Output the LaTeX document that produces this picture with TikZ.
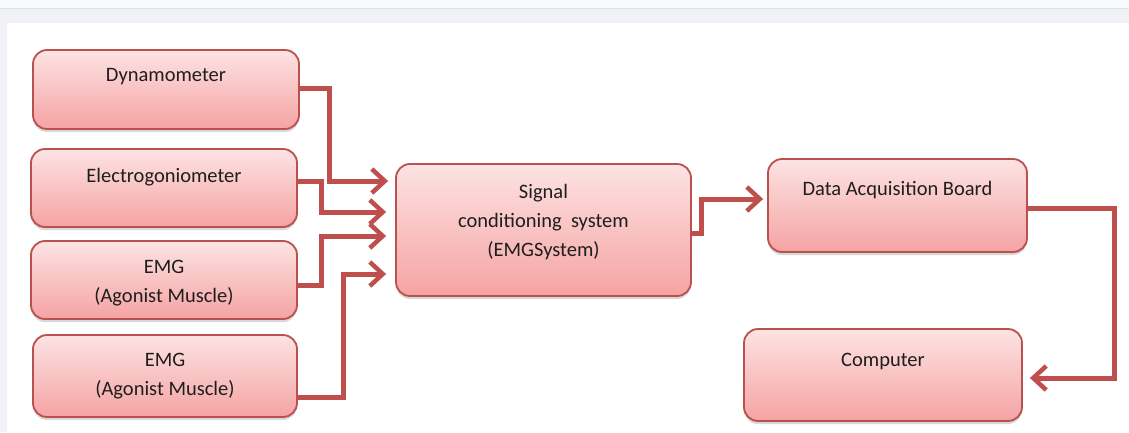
\documentclass[tikz,border=0pt]{standalone}
\usepackage{fontspec}
\setmainfont{Carlito}
\usetikzlibrary{arrows.meta,shadows}
\definecolor{bggray}{HTML}{F0F2F5}
\definecolor{topline}{HTML}{DDE0E5}
\definecolor{boxtop}{HTML}{FDE3E3}
\definecolor{boxbot}{HTML}{F5A3A3}
\definecolor{boxedge}{HTML}{B9514F}
\definecolor{conncol}{HTML}{BE4F4C}
\definecolor{txt}{HTML}{1E1E1E}
\tikzset{
  box/.style={draw=boxedge, line width=1.8pt, rounded corners=14pt,
    top color=boxtop, bottom color=boxbot, inner sep=0pt,
    drop shadow={shadow xshift=0pt, shadow yshift=-3pt, opacity=0.25, fill=black!60}},
  lbl/.style={text=txt, font=\fontsize{20.5}{29}\selectfont, align=center, inner sep=0pt},
  conn/.style={draw=conncol, line width=5pt,
    -{Straight Barb[length=13pt,width=24pt,line width=4.5pt]}},
}
\begin{document}
\begin{tikzpicture}[x=1pt,y=-1pt]
\useasboundingbox (0,0) rectangle (1129,432);
\fill[bggray] (0,0) rectangle (1129,432);
\fill[white!60!bggray] (0,0) rectangle (1129,8);
\draw[topline, line width=1pt] (0,8) -- (1129,8);
\fill[white] (7,23) rectangle (1129,432);

% boxes
\node[box, minimum width=266pt, minimum height=79pt] (dyn) at (166,89.5) {};
\node[box, minimum width=266pt, minimum height=78pt] (ele) at (164,188) {};
\node[box, minimum width=266pt, minimum height=78pt] (emga) at (164,280) {};
\node[box, minimum width=264pt, minimum height=82pt] (emgb) at (165,376) {};
\node[box, minimum width=295pt, minimum height=132pt] (sig) at (543.5,230) {};
\node[box, minimum width=259pt, minimum height=93pt] (daq) at (897.5,205.5) {};
\node[box, minimum width=278pt, minimum height=92pt] (comp) at (883,375) {};

% labels
\node[lbl] (tdyn) at (166,77) {Dynamometer};
\node[lbl] (tele) at (164,177) {Electrogoniometer};
\node[lbl] (temga) at (164,283) {EMG\\(Agonist Muscle)};
\node[lbl] (temgb) at (165,376) {EMG\\(Agonist Muscle)};
\node[lbl] (tsig) at (543.5,222) {Signal\\conditioning\ \ system\\(EMGSystem)};
\node[lbl] (tdaq) at (897.5,190) {Data Acquisition Board};
\node[lbl] (tcomp) at (883,361) {Computer};

% connectors
\draw[conn, shorten >=7pt] ([yshift=1.5pt]dyn.east) -- ++(30,0) |- ([yshift=49pt]sig.west);
\draw[conn, shorten >=9pt] ([yshift=7pt]ele.east) -- ++(24,0) |- ([yshift=18pt]sig.west);
\draw[conn, shorten >=9pt] ([yshift=-5pt]emga.east) -- ++(24,0) |- ([yshift=-6pt]sig.west);
\draw[conn, shorten >=9pt] ([yshift=-21pt]emgb.east) -- ++(46,0) |- ([yshift=-44pt]sig.west);
\draw[conn, shorten >=4pt] ([yshift=-3pt]sig.east) -- ++(10,0) |- ([yshift=6.5pt]daq.west);
\draw[conn, shorten >=7pt] ([yshift=-2.5pt]daq.east) -- ++(87,0) |- ([yshift=-3pt]comp.east);
\end{tikzpicture}
\end{document}
